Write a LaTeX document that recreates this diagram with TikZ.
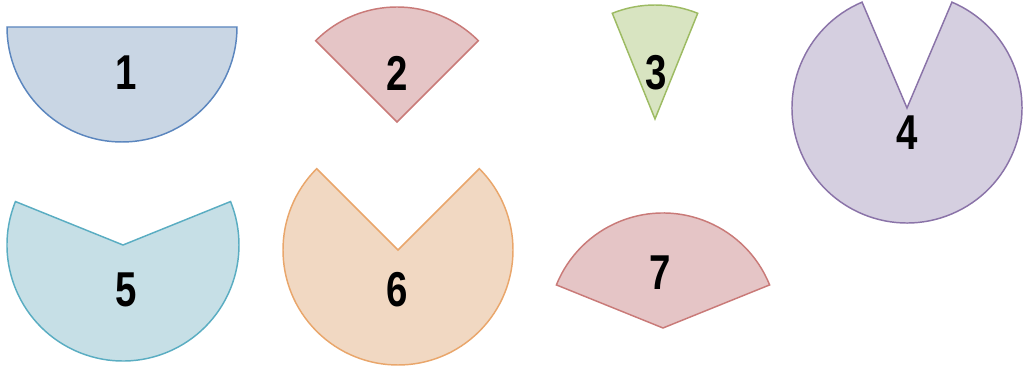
\documentclass[tikz,border=0pt]{standalone}
\usepackage{fontspec}
\setmainfont{Liberation Sans}
\newcommand{\cnd}[1]{\scalebox{0.8}[1.02]{#1}}
\begin{document}
\begin{tikzpicture}[x=0.75pt,y=0.75pt,
  shp/.style={line width=1.1pt,line join=miter},
  num/.style={font=\fontsize{36}{36}\selectfont\bfseries,inner sep=0pt,anchor=center}]
\definecolor{fBlue}{HTML}{C9D6E4}\definecolor{sBlue}{HTML}{5B86BE}
\definecolor{fRed}{HTML}{E5C5C6}\definecolor{sRed}{HTML}{C97A78}
\definecolor{fGreen}{HTML}{D8E4C1}\definecolor{sGreen}{HTML}{9DBB63}
\definecolor{fPurple}{HTML}{D5CFE0}\definecolor{sPurple}{HTML}{8A73A8}
\definecolor{fCyan}{HTML}{C6DFE6}\definecolor{sCyan}{HTML}{5AADC2}
\definecolor{fOrange}{HTML}{F1D8C2}\definecolor{sOrange}{HTML}{E9A66B}
\useasboundingbox (0,0) rectangle (1026,367);
% 1
\draw[shp,fill=fBlue,draw=sBlue] (7,340) arc[start angle=180,end angle=360,radius=86.25pt] -- cycle;
% 2
\draw[shp,fill=fRed,draw=sRed] (397,245) -- ++(45:86.25pt) arc[start angle=45,end angle=135,radius=86.25pt] -- cycle;
% 3
\draw[shp,fill=fGreen,draw=sGreen] (655,248) -- ++(68:85.5pt) arc[start angle=68,end angle=112,radius=85.5pt] -- cycle;
% 4
\draw[shp,fill=fPurple,draw=sPurple] (907,259) -- ++(113:86.25pt) arc[start angle=113,end angle=427,radius=86.25pt] -- cycle;
% 5
\draw[shp,fill=fCyan,draw=sCyan] (123,122) -- ++(158:87pt) arc[start angle=158,end angle=382,radius=87pt] -- cycle;
% 6
\draw[shp,fill=fOrange,draw=sOrange] (398,117) -- ++(135:86.25pt) arc[start angle=135,end angle=405,radius=86.25pt] -- cycle;
% 7
\draw[shp,fill=fRed,draw=sRed] (663,39) -- ++(22:86.25pt) arc[start angle=22,end angle=158,radius=86.25pt] -- cycle;
\node[num] (n1) at (126,294) {\cnd{1}};
\node[num] (n2) at (397,294) {\cnd{2}};
\node[num] (n3) at (656,294) {\cnd{3}};
\node[num] (n4) at (907,234) {\cnd{4}};
\node[num] (n5) at (126,77) {\cnd{5}};
\node[num] (n6) at (397,77) {\cnd{6}};
\node[num] (n7) at (660,94) {\cnd{7}};
\end{tikzpicture}
\end{document}
